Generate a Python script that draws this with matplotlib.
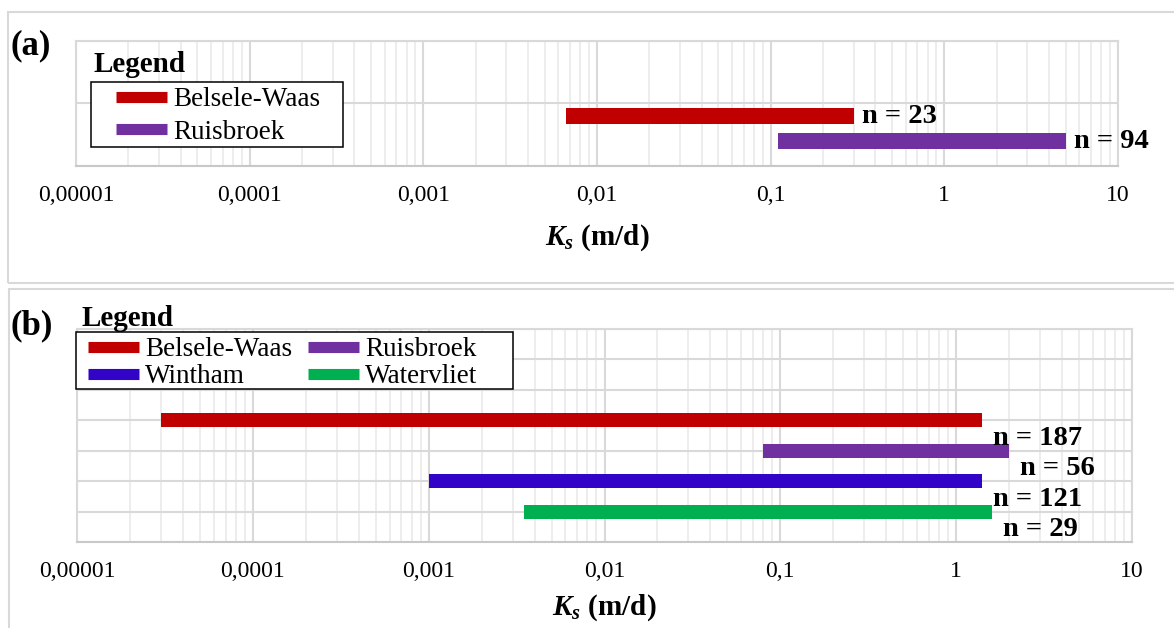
import matplotlib
matplotlib.use('Agg')
import matplotlib.pyplot as plt
import numpy as np
from matplotlib.patches import Rectangle
from matplotlib.lines import Line2D
from matplotlib.ticker import LogLocator, NullFormatter

plt.rcParams['font.family'] = ['Liberation Serif', 'DejaVu Serif']
plt.rcParams['mathtext.fontset'] = 'custom'
plt.rcParams['mathtext.rm'] = 'Liberation Serif'
plt.rcParams['mathtext.it'] = 'Liberation Serif:italic'
plt.rcParams['mathtext.bf'] = 'Liberation Serif:bold'
plt.rcParams['mathtext.bfit'] = 'Liberation Serif:bold:italic'

# ---------------- data ----------------
sites_a = ['Belsele-Waas', 'Ruisbroek']
ks_min_a = [0.0066, 0.11]
ks_max_a = [0.30, 5.0]
n_a = [23, 94]

sites_b = ['Belsele-Waas', 'Ruisbroek', 'Wintham', 'Watervliet']
ks_min_b = [0.00003, 0.08, 0.001, 0.0035]
ks_max_b = [1.4, 2.0, 1.4, 1.6]
n_b = [187, 56, 121, 29]

xtick_values = [1e-5, 1e-4, 1e-3, 1e-2, 1e-1, 1, 10]
xtick_labels = ['0,00001', '0,0001', '0,001', '0,01', '0,1', '1', '10']

site_colors = {'Belsele-Waas': '#C00000', 'Ruisbroek': '#7030A0',
               'Wintham': '#3204C8', 'Watervliet': '#00B050'}

# ---------------- layout ----------------
W, H = 1174, 628
fig = plt.figure(figsize=(W / 100, H / 100), dpi=100)


def px_axes(x0, y0, x1, y1):
    return fig.add_axes([x0 / W, 1 - y1 / H, (x1 - x0) / W, (y1 - y0) / H])


def fig_xy(x, y):
    return (x / W, 1 - y / H)


def style(ax, ymax):
    ax.set_xscale('log')
    ax.set_xlim(1e-5, 10)
    ax.set_ylim(0, ymax)
    ax.set_xticks(xtick_values)
    ax.set_xticklabels(xtick_labels)
    ax.xaxis.set_minor_locator(LogLocator(base=10, subs=np.arange(2, 10)))
    ax.xaxis.set_minor_formatter(NullFormatter())
    ax.set_yticks(np.arange(0, ymax + 1))
    ax.set_yticklabels([])
    ax.tick_params(which='both', length=0)
    ax.tick_params(axis='x', labelsize=17, pad=13.5)
    ax.grid(True, which='minor', axis='x', color='#ececec', lw=1.3)
    ax.grid(True, which='major', axis='both', color='#d9d9d9', lw=1.5)
    ax.set_axisbelow(True)
    for s in ax.spines.values():
        s.set_color('#d9d9d9')
        s.set_linewidth(1.5)
    ax.spines['bottom'].set_color('#c8c8c8')


# panel frames
for (x0, y0, x1, y1) in [(7.5, 12, 1185, 283), (9, 289, 1185, 640)]:
    fig.add_artist(Rectangle(fig_xy(x0, y1), (x1 - x0) / W, (y1 - y0) / H,
                             transform=fig.transFigure, fill=False,
                             edgecolor='#d9d9d9', lw=1.5, clip_on=False))

LEG_FS = 19.5

# ---------------- panel (a) ----------------
axa = px_axes(76, 40.7, 1118, 166)
style(axa, 2)
ya = [0.8 - 0.4 * i for i in range(len(sites_a))]
for y, s, lo, hi, n in zip(ya, sites_a, ks_min_a, ks_max_a, n_a):
    axa.barh(y, hi - lo, left=lo, height=0.255, color=site_colors[s], zorder=3)
    axa.annotate(f'n = {n}', xy=(hi, y), xytext=(8, -1), textcoords='offset pixels',
                 ha='left', va='center', fontsize=20.5, fontweight='bold', zorder=6)

# legend (a)
axa.add_patch(Rectangle(fig_xy(91, 146.7), (343 - 91) / W, (146.7 - 81.7) / H,
                        transform=fig.transFigure, facecolor='white', edgecolor='black',
                        lw=1.1, clip_on=False, zorder=4.5))
handles_a = [Line2D([], [], color=site_colors[s], lw=8, solid_capstyle='butt') for s in sites_a]
lega = axa.legend(handles_a, sites_a, loc='upper left',
                  bbox_to_anchor=fig_xy(116, 87), bbox_transform=fig.transFigure,
                  frameon=False, fontsize=LEG_FS, handlelength=1.88, handletextpad=0.22,
                  labelspacing=0.28, borderpad=0, borderaxespad=0)
lega.set_zorder(5)
fig.text(*fig_xy(93, 72), 'Legend', fontsize=21, fontweight='bold', ha='left', va='baseline')
fig.text(*fig_xy(10, 54), '(a)', fontsize=25, fontweight='bold', ha='left', va='baseline')
fig.text(*fig_xy(597, 245), r'$\mathbfit{K}_\mathbfit{s}$ (m/d)', fontsize=21,
         fontweight='bold', ha='center', va='baseline')

# ---------------- panel (b) ----------------
axb = px_axes(77, 329, 1132, 542)
style(axb, 7)
yb = [4 - i for i in range(len(sites_b))]
for y, s, lo, hi, n in zip(yb, sites_b, ks_min_b, ks_max_b, n_b):
    axb.barh(y, hi - lo, left=lo, height=0.46, color=site_colors[s], zorder=3)
    axb.annotate(f'n = {n}', xy=(hi, y), xytext=(11, -18), textcoords='offset pixels',
                 ha='left', va='center', fontsize=20.5, fontweight='bold', zorder=6)

axb.add_patch(Rectangle(fig_xy(76, 389), (513 - 76) / W, (389 - 332) / H,
                        transform=fig.transFigure, facecolor='white', edgecolor='black',
                        lw=1.1, clip_on=False, zorder=4.5))
order_b = [0, 2, 1, 3]
handles_b = [Line2D([], [], color=site_colors[sites_b[i]], lw=8, solid_capstyle='butt') for i in order_b]
legb = axb.legend(handles_b, [sites_b[i] for i in order_b], loc='upper left', ncol=2,
                  bbox_to_anchor=fig_xy(88, 337), bbox_transform=fig.transFigure,
                  frameon=False, fontsize=LEG_FS, handlelength=1.88, handletextpad=0.22,
                  labelspacing=0.09, columnspacing=0.6, borderpad=0, borderaxespad=0)
legb.set_zorder(5)
fig.text(*fig_xy(82, 326), 'Legend', fontsize=21, fontweight='bold', ha='left', va='baseline')
fig.text(*fig_xy(10, 334), '(b)', fontsize=25, fontweight='bold', ha='left', va='baseline')
fig.text(*fig_xy(604, 615), r'$\mathbfit{K}_\mathbfit{s}$ (m/d)', fontsize=21,
         fontweight='bold', ha='center', va='baseline')

fig.savefig('out.png', dpi=100, facecolor='white')
